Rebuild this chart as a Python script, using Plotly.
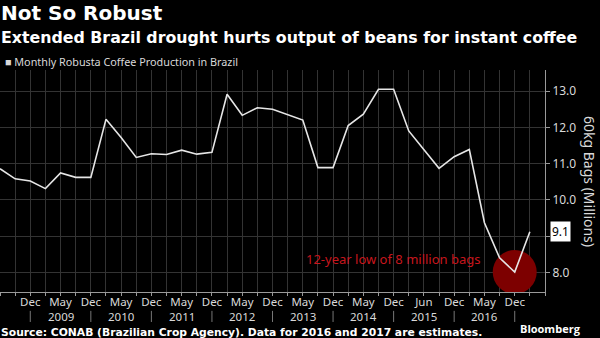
import plotly.graph_objects as go

# Monthly Robusta coffee production in Brazil (million 60kg bags), CONAB survey points
production = [10.86, 10.58, 10.52, 10.31, 10.74, 10.62, 10.62, 12.22, 11.72, 11.17,
              11.27, 11.25, 11.37, 11.26, 11.31, 12.91, 12.33, 12.54, 12.50, 12.36,
              12.20, 10.89, 10.89, 12.05, 12.36, 13.05, 13.05, 11.90, 11.38, 10.87,
              11.19, 11.39, 9.37, 8.40, 8.01, 9.12]
points = list(range(len(production)))

tick_pos = [2, 4, 6, 8, 10, 12, 14, 16, 18, 20, 22, 24, 26, 28, 30, 32, 34]
tick_month = ["Dec", "May", "Dec", "May", "Dec", "May", "Dec", "May", "Dec",
              "May", "Dec", "May", "Dec", "Jun", "Dec", "May", "Dec"]
tick_year = ["", "2009", "", "2010", "", "2011", "", "2012", "", "2013",
             "", "2014", "", "2015", "", "2016", ""]
y_ticks = [8.0, 9.0, 10.0, 11.0, 12.0, 13.0]

low_idx = production.index(min(production))
last_val = production[-1]

fig = go.Figure()
fig.add_trace(go.Scatter(
    x=[points[low_idx]], y=[production[low_idx]], mode="markers",
    marker=dict(size=44, color="#7d0000", line=dict(width=0)),
    showlegend=False, hoverinfo="skip"))
fig.add_trace(go.Scatter(
    x=points, y=production, mode="lines",
    line=dict(color="#e6e6e6", width=1.6),
    name="Monthly Robusta Coffee Production in Brazil", showlegend=False))

grid = "#333333"
axis_col = "#9a9a9a"
label_col = "#d9d9d9"
base_font = "Noto Sans"
head_font = "DejaVu Sans"

fig.update_layout(
    width=600, height=338,
    margin=dict(l=0, r=55, t=70, b=46),
    paper_bgcolor="#000000", plot_bgcolor="#000000",
    font=dict(family=base_font, color=label_col, size=12),
    xaxis=dict(
        range=[0, len(production)],
        tickmode="array", tickvals=tick_pos, ticktext=tick_month,
        ticks="outside", ticklen=3, tickcolor=axis_col,
        ticklabelstandoff=-4,
        showgrid=True, gridcolor=grid, gridwidth=1,
        showline=True, linecolor=axis_col, linewidth=1,
        zeroline=False,
        tickfont=dict(family=base_font, size=11.5, color=label_col),
        minor=dict(dtick=1, tick0=0, showgrid=True, gridcolor=grid,
                   ticks="outside", ticklen=3, tickcolor=axis_col),
    ),
    yaxis=dict(
        side="right", range=[7.46, 13.58],
        tickmode="array", tickvals=y_ticks,
        ticktext=[f"{v:.1f}" for v in y_ticks],
        ticks="outside", ticklen=4, tickcolor=axis_col,
        showgrid=True, gridcolor=grid, gridwidth=1,
        showline=True, linecolor=axis_col, linewidth=1,
        zeroline=False,
        tickfont=dict(family=base_font, size=12, color=label_col),
    ),
)

ann = []
# year labels and separators (second row under the month ticks)
for pos, m, yr in zip(tick_pos, tick_month, tick_year):
    if m == "Dec":
        fig.add_shape(type="line", xref="x", yref="paper", x0=pos, x1=pos,
                      y0=-0.085, y1=-0.135, line=dict(color="#777777", width=1))
    if yr:
        ann.append(dict(text=yr, xref="x", yref="paper", x=pos, y=-0.112,
                        xanchor="center", yanchor="middle", showarrow=False,
                        font=dict(family=base_font, size=11.5, color=label_col)))

ann.append(dict(text="<b>Not So Robust</b>", xref="paper", yref="paper",
                x=-0.002, y=1.255, xanchor="left", yanchor="middle", showarrow=False,
                font=dict(family=head_font, size=20, color="#ffffff")))
ann.append(dict(text="<b>Extended Brazil drought hurts output of beans for instant coffee</b>",
                xref="paper", yref="paper", x=-0.002, y=1.145, xanchor="left",
                yanchor="middle", showarrow=False,
                font=dict(family=head_font, size=15.8, color="#ffffff")))
ann.append(dict(text="■ Monthly Robusta Coffee Production in Brazil", xref="paper",
                yref="paper", x=0.005, y=1.04, xanchor="left", yanchor="middle",
                showarrow=False, font=dict(family=base_font, size=10.8, color=label_col)))
ann.append(dict(text="60kg Bags (Millions)", xref="paper", yref="paper",
                x=1.0 + 45 / 545, y=0.5, xanchor="center", yanchor="middle",
                textangle=90, showarrow=False,
                font=dict(family=base_font, size=14, color=label_col)))
ann.append(dict(text="12-year low of 8 million bags", xref="x", yref="y",
                x=20.1, y=8.37, xanchor="left", yanchor="middle", showarrow=False,
                font=dict(family=base_font, size=13, color="#c8161d")))
ann.append(dict(text=f"{last_val:.1f}", xref="paper", yref="y", x=1.0, xshift=5,
                y=last_val, xanchor="left", yanchor="middle", showarrow=False,
                bgcolor="#ffffff", borderpad=1,
                font=dict(family=base_font, size=12, color="#000000")))
ann.append(dict(text="<b>Source: CONAB (Brazilian Crop Agency). Data for 2016 and 2017 are estimates.</b>",
                xref="paper", yref="paper", x=-0.002, y=-0.184, xanchor="left",
                yanchor="middle", showarrow=False,
                font=dict(family=head_font, size=10.75, color="#ffffff")))
ann.append(dict(text="<b>Bloomberg</b>", xref="paper", yref="paper", x=1.0 + 38 / 545,
                y=-0.165, xanchor="right", yanchor="middle", showarrow=False,
                font=dict(family="Open Sans", size=11, color="#ffffff")))
fig.update_layout(annotations=ann)

fig.write_html("out.html")
